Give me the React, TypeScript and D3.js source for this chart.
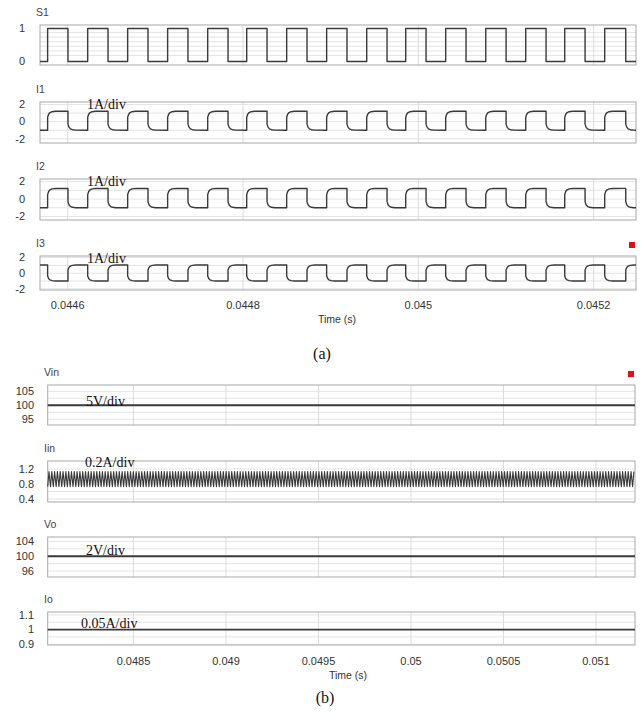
import React from 'react';
import * as d3 from 'd3';

// ---------- DATA ----------
// (a) switching signal S1: rising / falling edge times (s)
const s1Rise = [0.0445771, 0.0446228, 0.0446684, 0.044714, 0.0447597, 0.0448042, 0.0448498, 0.0448954, 0.0449411, 0.0449856, 0.0450312, 0.0450769, 0.0451225, 0.045167, 0.0452126];
const s1Fall = [0.0446003, 0.044646, 0.0446916, 0.0447372, 0.0447829, 0.0448274, 0.044873, 0.0449186, 0.0449643, 0.0450088, 0.0450544, 0.0451001, 0.0451457, 0.0451902, 0.0452366];
const aTimeDomain = [0.0445684, 0.0452483];
const aTicks = [0.0446, 0.0448, 0.045, 0.0452];
const aTickLabels = ['0.0446', '0.0448', '0.045', '0.0452'];

// current waveform levels (A): [high, low]
const i1Levels = [1.22, -1.0];
const i2Levels = [1.22, -1.0];
const i3Levels = [1.05, -1.0];
// shape of each transition: time fraction of a half period, fraction of the swing
const edgeShapeT = [0, 0, 0.05, 0.12, 0.22, 0.4, 1];
const edgeShapeV = [0, 0.68, 0.84, 0.93, 0.975, 0.995, 1];

// (b) steady-state quantities
const bTimeDomain = [0.0480362, 0.0512108];
const bTicks = [0.0485, 0.049, 0.0495, 0.05, 0.0505, 0.051];
const bTickLabels = ['0.0485', '0.049', '0.0495', '0.05', '0.0505', '0.051'];
const vinValue = [100];
const voValue = [100];
const ioValue = [1];
const iinRipple = [1.13, 0.73]; // peak, valley (A)
const iinRipplePeriod = 15.2e-6; // s
const iinShapeT = [0, 0.45, 1];
const iinShapeV = [0, 1, 0]; // fraction toward peak

// ---------- LAYOUT ----------
const W = 644, H = 719;
const aX = [40, 636];
const bX = [47.7, 635];

type Panel = {
  title: string; top: number; bottom: number; domain: [number, number];
  ticks: number[]; tickLabels: string[]; grid: number[]; note?: string; noteX?: number; noteY?: number;
};

const aPanels: Panel[] = [
  { title: 'S1', top: 25, bottom: 65, domain: [-0.106, 1.106], ticks: [1, 0], tickLabels: ['1', '0'], grid: [0.18, 0.32, 0.46, 0.6, 0.74, 0.88] },
  { title: 'I1', top: 102, bottom: 143, domain: [-2.5, 2.3], ticks: [2, 0, -2], tickLabels: ['2', '0', '-2'], grid: [-2, -1, 0, 1, 2], note: '1A/div', noteX: 87, noteY: 108.5 },
  { title: 'I2', top: 179, bottom: 220, domain: [-2.4, 2.3], ticks: [2, 0, -2], tickLabels: ['2', '0', '-2'], grid: [-2, -1, 0, 1, 2], note: '1A/div', noteX: 87, noteY: 186 },
  { title: 'I3', top: 256, bottom: 290, domain: [-2.15, 2.2], ticks: [2, 0, -2], tickLabels: ['2', '0', '-2'], grid: [-2, -1, 0, 1, 2], note: '1A/div', noteX: 87, noteY: 262.5 },
];

const bPanels: Panel[] = [
  { title: 'Vin', top: 385, bottom: 425, domain: [92.96, 107.25], ticks: [105, 100, 95], tickLabels: ['105', '100', '95'], grid: [95, 97.5, 100, 102.5, 105], note: '5V/div', noteX: 86, noteY: 406 },
  { title: 'Iin', top: 461, bottom: 502, domain: [0.32, 1.413], ticks: [1.2, 0.8, 0.4], tickLabels: ['1.2', '0.8', '0.4'], grid: [0.4, 0.6, 0.8, 1.0, 1.2], note: '0.2A/div', noteX: 85, noteY: 467 },
  { title: 'Vo', top: 537, bottom: 577, domain: [94.4, 105.2], ticks: [104, 100, 96], tickLabels: ['104', '100', '96'], grid: [96, 98, 100, 102, 104], note: '2V/div', noteX: 86, noteY: 555 },
  { title: 'Io', top: 612, bottom: 645, domain: [0.895, 1.12], ticks: [1.1, 1, 0.9], tickLabels: ['1.1', '1', '0.9'], grid: [0.9, 0.95, 1, 1.05, 1.1], note: '0.05A/div', noteX: 81, noteY: 628 },
];

// ---------- waveform builders ----------
type Pt = [number, number];
function edges(): { t: number; up: boolean }[] {
  const e = [...s1Rise.map(t => ({ t, up: true })), ...s1Fall.map(t => ({ t, up: false }))];
  return e.sort((a, b) => a.t - b.t);
}

function squareWave(): Pt[] {
  const pts: Pt[] = [[aTimeDomain[0], 0]];
  let lvl = 0;
  for (const e of edges()) {
    const n = e.up ? 1 : 0;
    pts.push([e.t, lvl]);
    pts.push([e.t, n]);
    lvl = n;
  }
  pts.push([aTimeDomain[1], lvl]);
  return pts;
}

function currentWave(levels: number[], inverted: boolean): Pt[] {
  const [hi, lo] = levels;
  const ed = edges();
  const halfPeriods = ed.slice(1).map((e, i) => e.t - ed[i].t);
  const half = d3.mean(halfPeriods) as number;
  let lvl = inverted ? hi : lo;
  const pts: Pt[] = [[aTimeDomain[0], lvl]];
  ed.forEach((e, i) => {
    const goingHigh = inverted ? !e.up : e.up;
    const target = goingHigh ? hi : lo;
    const end = i + 1 < ed.length ? ed[i + 1].t : aTimeDomain[1];
    for (let k = 0; k < edgeShapeT.length; k++) {
      const t = e.t + edgeShapeT[k] * half;
      if (t > end) break;
      pts.push([t, lvl + (target - lvl) * edgeShapeV[k]]);
    }
    lvl = target;
  });
  pts.push([aTimeDomain[1], lvl]);
  return pts;
}

function iinWave(): Pt[] {
  const [pk, vl] = iinRipple;
  const pts: Pt[] = [];
  for (let t0 = bTimeDomain[0]; t0 < bTimeDomain[1]; t0 += iinRipplePeriod) {
    for (let k = 0; k < iinShapeT.length - 1; k++) {
      const t = t0 + iinShapeT[k] * iinRipplePeriod;
      if (t > bTimeDomain[1]) break;
      pts.push([t, vl + (pk - vl) * iinShapeV[k]]);
    }
  }
  return pts;
}

const TICK_FONT = "'Liberation Sans', Arial, sans-serif";
const SERIF = "'Liberation Serif', 'Times New Roman', serif";

function PanelView({ p, x, xr, data, yLabelX, titleX, lineW, gridTicks }: {
  p: Panel; x: d3.ScaleLinear<number, number>; xr: number[]; data: Pt[]; yLabelX: number; titleX: number; lineW: number; gridTicks: number[];
}) {
  const y = d3.scaleLinear().domain(p.domain).range([p.bottom, p.top]);
  const line = d3.line<Pt>().x(d => x(d[0])).y(d => y(d[1]));
  return (
    <g>
      <text x={titleX} y={p.top - 9} fontSize={10.5} fill="#444" fontFamily={TICK_FONT}>{p.title}</text>
      {p.grid.map((g, i) => (
        <line key={'h' + i} x1={xr[0]} x2={xr[1]} y1={y(g)} y2={y(g)} stroke="#e4e4e4" strokeWidth={1} />
      ))}
      {gridTicks.map((t, i) => (
        <line key={'v' + i} x1={x(t)} x2={x(t)} y1={p.top} y2={p.bottom} stroke="#dcdcdc" strokeWidth={1} />
      ))}
      <rect x={xr[0]} y={p.top} width={xr[1] - xr[0]} height={p.bottom - p.top} fill="none" stroke="#a8a8a8" strokeWidth={1} />
      <path d={line(data) || ''} fill="none" stroke="#3a3a3a" strokeWidth={lineW} strokeLinejoin="round" />
      {p.ticks.map((t, i) => (
        <text key={'t' + i} x={yLabelX} y={y(t)} dy="0.35em" textAnchor="end" fontSize={11} fill="#333" fontFamily={TICK_FONT}>{p.tickLabels[i]}</text>
      ))}
      {p.note && (
        <text x={p.noteX} y={p.noteY} fontSize={14} fill="#111" fontFamily={SERIF}>{p.note}</text>
      )}
    </g>
  );
}

export default function App() {
  const xa = d3.scaleLinear().domain(aTimeDomain).range(aX);
  const xb = d3.scaleLinear().domain(bTimeDomain).range(bX);
  const aData: Pt[][] = [squareWave(), currentWave(i1Levels, false), currentWave(i2Levels, false), currentWave(i3Levels, true)];
  const bData: Pt[][] = [
    [[bTimeDomain[0], vinValue[0]], [bTimeDomain[1], vinValue[0]]],
    iinWave(),
    [[bTimeDomain[0], voValue[0]], [bTimeDomain[1], voValue[0]]],
    [[bTimeDomain[0], ioValue[0]], [bTimeDomain[1], ioValue[0]]],
  ];
  const bWidths = [2, 1.1, 2, 1.6];
  return (
    <svg width={W} height={H} style={{ position: 'absolute', left: 0, top: 0, background: '#fff' }} fontFamily={TICK_FONT}>
      <rect width={W} height={H} fill="#fff" />
      {aPanels.map((p, i) => (
        <PanelView key={'a' + i} p={p} x={xa} xr={aX} data={aData[i]} yLabelX={25} titleX={36} lineW={1.4} gridTicks={aTicks} />
      ))}
      {aTicks.map((t, i) => (
        <text key={'ax' + i} x={xa(t)} y={305} dy="0.35em" textAnchor="middle" fontSize={11} fill="#333">{aTickLabels[i]}</text>
      ))}
      <text x={337} y={319} dy="0.35em" textAnchor="middle" fontSize={10.5} fill="#333">Time (s)</text>
      <rect x={629} y={242} width={6} height={6} fill="#e01010" />
      <text x={322} y={353} dy="0.35em" textAnchor="middle" fontSize={16} fill="#111" fontFamily={SERIF}>(a)</text>

      {bPanels.map((p, i) => (
        <PanelView key={'b' + i} p={p} x={xb} xr={bX} data={bData[i]} yLabelX={34} titleX={44} lineW={bWidths[i]} gridTicks={bTicks} />
      ))}
      {bTicks.map((t, i) => (
        <text key={'bx' + i} x={xb(t)} y={661} dy="0.35em" textAnchor="middle" fontSize={11} fill="#333">{bTickLabels[i]}</text>
      ))}
      <text x={348} y={675} dy="0.35em" textAnchor="middle" fontSize={10.5} fill="#333">Time (s)</text>
      <rect x={628} y={371} width={6} height={6} fill="#e01010" />
      <text x={325} y={697} dy="0.35em" textAnchor="middle" fontSize={16} fill="#111" fontFamily={SERIF}>(b)</text>
    </svg>
  );
}
